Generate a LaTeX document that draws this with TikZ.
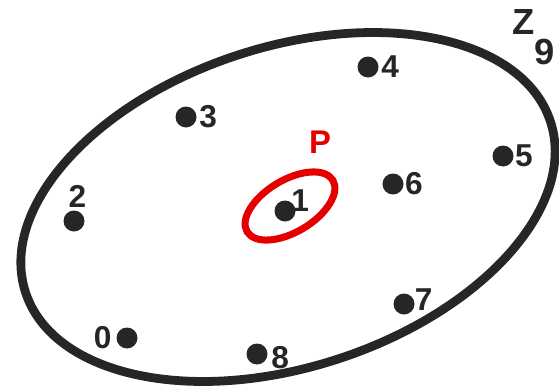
\documentclass[tikz,border=0pt]{standalone}
\usepackage{fontspec}
\setmainfont{Liberation Sans}
\usetikzlibrary{positioning}

\begin{document}
\begin{tikzpicture}[
  x=0.03cm, y=-0.03cm,
  pt/.style={circle, fill=black!85, inner sep=0pt, minimum size=0.63cm},
  lbl/.style={font=\fontsize{27}{30}\selectfont\bfseries, text=black!85, inner sep=1pt},
  set/.style={draw=black!85, line width=7.5pt},
  sub/.style={draw=red!90!black, line width=6pt},
  every label/.style={lbl}
]
\useasboundingbox (0,0) rectangle (559,391);

% the set Z_9
\draw[set] (288,207) ellipse [x radius=276, y radius=160, rotate=18];
\node[lbl, anchor=base west, font=\fontsize{31}{34}\selectfont\bfseries] (zname) at (511,34) {Z\raisebox{-26pt}{9}};

% its elements
\node[pt, label={[label distance=3pt]left:0}] (p0) at (127,338) {};
\node[pt, label={[label distance=-5pt, yshift=8.5pt]right:1}] (p1) at (285,211) {};
\node[pt, label={[label distance=1pt, xshift=3pt]above:2}] (p2) at (74,221) {};
\node[pt, label={[label distance=1pt]right:3}] (p3) at (186,117) {};
\node[pt, label={[label distance=1pt]right:4}] (p4) at (368,67) {};
\node[pt, label={[label distance=0pt]right:5}] (p5) at (503,156) {};
\node[pt, label={[label distance=0pt]right:6}] (p6) at (393,184) {};
\node[pt, label={[label distance=-1pt, yshift=4pt]right:7}] (p7) at (404,304) {};
\node[pt, label={[label distance=2pt, yshift=-3.5pt]right:8}] (p8) at (257,354) {};

% the subset P
\draw[sub] (290,206) ellipse [x radius=50, y radius=26, rotate=31];
\node[lbl, text=red!90!black, font=\fontsize{28}{30}\selectfont\bfseries] (pname) at (320,142) {P};

\end{tikzpicture}
\end{document}
